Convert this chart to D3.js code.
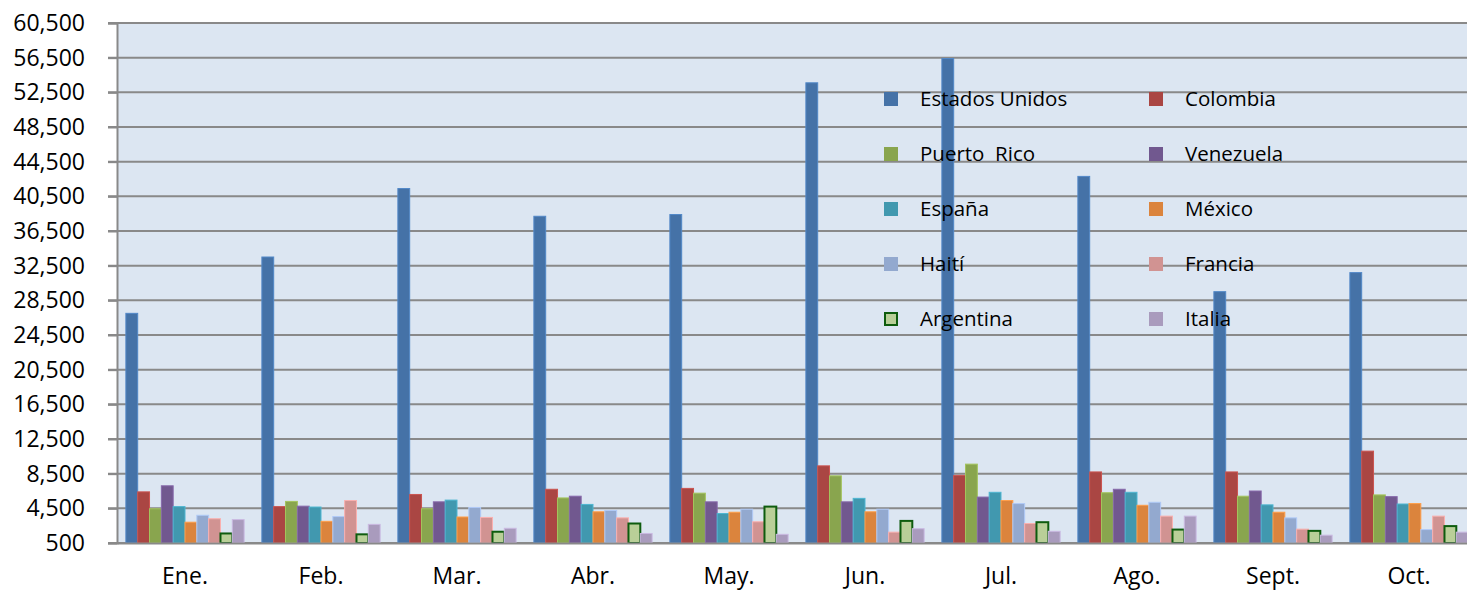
<html>
	<head>
		<meta charset="utf-8">
		<style>
			body { margin: 0; background: #fff; }
			text { font-family: "Open Sans", "Liberation Sans", sans-serif; fill: #000; }
			.axis text { font-size: 23px; }
			#legend text { font-size: 20.5px; white-space: pre; }
		</style>
		<script src="https://d3js.org/d3.v7.min.js"></script>
	</head>
	<body>
		<svg width="1467" height="590"></svg>
		<script>
			const months = ["Ene.", "Feb.", "Mar.", "Abr.", "May.", "Jun.", "Jul.", "Ago.", "Sept.", "Oct."];
			const countries = ["Estados Unidos", "Colombia", "Puerto  Rico", "Venezuela", "España", "México", "Haití", "Francia", "Argentina", "Italia"];
			const yTicks = [500, 4500, 8500, 12500, 16500, 20500, 24500, 28500, 32500, 36500, 40500, 44500, 48500, 52500, 56500, 60500];

			// one array per country, Ene. .. Oct.
			const estadosUnidos = [27000, 33500, 41400, 38200, 38400, 53600, 56400, 42800, 29500, 31700];
			const colombia      = [6400, 4700, 6100, 6700, 6800, 9400, 8300, 8700, 8700, 11100];
			const puertoRico    = [4450, 5300, 4450, 5700, 6250, 8250, 9600, 6300, 5900, 6050];
			const venezuela     = [7100, 4750, 5250, 5900, 5250, 5250, 5800, 6700, 6500, 5850];
			const espana        = [4700, 4650, 5450, 4950, 3900, 5650, 6350, 6350, 4900, 5000];
			const mexico        = [2900, 3000, 3500, 4100, 4050, 4100, 5400, 4850, 4050, 5050];
			const haiti         = [3700, 3550, 4600, 4250, 4400, 4400, 5050, 5200, 3400, 2050];
			const francia       = [3300, 5400, 3450, 3400, 2950, 1750, 2750, 3600, 2100, 3600];
			const argentina     = [1600, 1500, 1800, 2750, 4700, 3050, 2900, 2050, 1900, 2450];
			const italia        = [3200, 2650, 2200, 1600, 1500, 2150, 1850, 3600, 1400, 1750];

			const series = [estadosUnidos, colombia, puertoRico, venezuela, espana, mexico, haiti, francia, argentina, italia];
			const colors = ["#4572A7", "#AA4643", "#89A54E", "#71588F", "#4198AF", "#DB843D", "#93A9CF", "#D19392", "#B9CF98", "#A99BBD"];

			const svg = d3.select("svg");
			const plotLeft = 117, plotTop = 23, plotBottom = 543;
			const bandW = 136;

			const ys = d3.scaleLinear().domain([500, 60500]).range([plotBottom, plotTop]);
			const xs = d3.scaleBand().domain(months).range([plotLeft, plotLeft + bandW * months.length]);
			const inner = d3.scaleBand().domain(d3.range(countries.length))
				.range([0, xs.bandwidth()]).paddingOuter(0.75);

			// plot background
			svg.append("rect")
				.attr("x", plotLeft).attr("y", plotTop)
				.attr("width", 1467 - plotLeft).attr("height", plotBottom - plotTop)
				.style("fill", "#DCE6F2");

			// gridlines
			svg.append("g")
				.selectAll("line")
				.data(yTicks)
				.enter()
				.append("line")
				.attr("x1", plotLeft - 9).attr("x2", 1467)
				.attr("y1", d => ys(d)).attr("y2", d => ys(d))
				.style("stroke", "#898989")
				.style("stroke-width", 2);

			// y axis
			const yAxis = svg.append("g")
				.attr("class", "axis")
				.attr("transform", "translate(" + plotLeft + ",0)")
				.call(d3.axisLeft(ys).tickValues(yTicks).tickFormat(d3.format(",")).tickSize(9).tickPadding(23));
			yAxis.select(".domain").style("stroke", "#898989").style("stroke-width", 2);
			yAxis.selectAll(".tick line").style("stroke", "#898989").style("stroke-width", 2);

			// bars
			series.forEach((vals, si) => {
				svg.append("g")
					.selectAll("rect")
					.data(vals)
					.enter()
					.append("rect")
					.attr("x", (d, i) => xs(months[i]) + inner(si))
					.attr("y", d => ys(d))
					.attr("width", inner.bandwidth())
					.attr("height", d => ys(500) - ys(d))
					.style("fill", colors[si])
					.style("stroke", si == 8 ? "#0E5C0E" : d3.color(colors[si]).brighter(0.5))
					.style("stroke-width", si == 8 ? 2 : 1);
			});

			// x axis
			const xAxis = svg.append("g")
				.attr("class", "axis")
				.attr("transform", "translate(0," + plotBottom + ")")
				.call(d3.axisBottom(xs).tickSize(0).tickPadding(25));
			xAxis.select(".domain").style("stroke", "#898989").style("stroke-width", 2);

			// legend, two columns
			const legend = svg.append("g").attr("id", "legend");
			const legenditem = legend.selectAll(".legenditem")
				.data(d3.range(countries.length))
				.enter()
				.append("g")
				.attr("class", "legenditem")
				.attr("transform", i => "translate(" + (884 + (i % 2) * 265) + "," + (99 + Math.floor(i / 2) * 55) + ")");

			legenditem.append("rect")
				.attr("x", i => i == 8 ? 1 : 0)
				.attr("y", i => i == 8 ? -6 : -7)
				.attr("width", i => i == 8 ? 12 : 14)
				.attr("height", i => i == 8 ? 12 : 14)
				.style("fill", i => colors[i])
				.style("stroke", i => i == 8 ? "#0E5C0E" : "none")
				.style("stroke-width", 2);

			legenditem.append("text")
				.attr("x", 36)
				.attr("dy", "0.35em")
				.attr("xml:space", "preserve")
				.text(i => countries[i]);
		</script>
	</body>
</html>
